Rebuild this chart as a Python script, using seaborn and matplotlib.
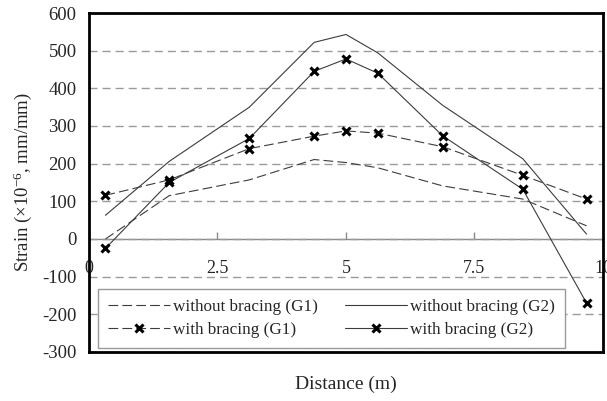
import matplotlib
matplotlib.use('Agg')
import matplotlib.pyplot as plt
import seaborn as sns

# ---- data ----
distance = [0.32, 1.56, 3.12, 4.38, 5.0, 5.62, 6.88, 8.44, 9.68]
without_g1 = [0, 115, 157, 211, 203, 189, 141, 106, 35]
without_g2 = [63, 206, 350, 522, 543, 494, 355, 213, 13]
with_g1 = [116, 157, 240, 273, 287, 281, 245, 169, 106]
with_g2 = [-25, 150, 267, 445, 478, 440, 274, 132, -170]
x_ticks = [0, 2.5, 5, 7.5, 10]
x_tick_labels = ['0', '2.5', '5', '7.5', '10']
y_ticks = [-300, -200, -100, 0, 100, 200, 300, 400, 500, 600]
series_labels = ['without bracing (G1)', 'with bracing (G1)',
                 'without bracing (G2)', 'with bracing (G2)']

sns.set_style('white')
plt.rcParams['font.family'] = ['Liberation Serif', 'DejaVu Serif']
plt.rcParams['mathtext.fontset'] = 'custom'
plt.rcParams['mathtext.rm'] = 'Liberation Serif'
plt.rcParams['mathtext.it'] = 'Liberation Serif:italic'
plt.rcParams['lines.scale_dashes'] = False

W, H = 607, 401
fig = plt.figure(figsize=(W / 100, H / 100), dpi=100)
ax = fig.add_axes([89 / W, 1 - 352 / H, 514 / W, 339 / H])

line_color = '#3c3c3c'
dash = (0, (7, 3))
common = dict(ax=ax, color=line_color, linewidth=0.8)
sns.lineplot(x=distance, y=without_g1, linestyle=dash, label=series_labels[0], **common)
sns.lineplot(x=distance, y=with_g1, linestyle=dash, marker='x', markersize=5.5,
             mew=2.2, mec='black', label=series_labels[1], **common)
sns.lineplot(x=distance, y=without_g2, linestyle='-', label=series_labels[2], **common)
sns.lineplot(x=distance, y=with_g2, linestyle='-', marker='x', markersize=5.5,
             mew=2.2, mec='black', label=series_labels[3], **common)

ax.set_xlim(0, 10)
ax.set_ylim(-300, 600)
ax.set_yticks(y_ticks)
ax.set_yticklabels([str(v) for v in y_ticks])
ax.tick_params(axis='y', length=0, pad=9, labelsize=13.5)
ax.set_xticks(x_ticks)
ax.tick_params(axis='x', length=0, labelbottom=False)
ax.yaxis.grid(True, color='#9a9a9a', linewidth=1, linestyle=(0, (5.8, 3.6)))
ax.xaxis.grid(False)
for s in ax.spines.values():
    s.set_visible(True)
    s.set_color('black')
    s.set_linewidth(2)

# x axis crossing at y = 0
zero_frac = (0 - (-300)) / 900
sec = ax.secondary_xaxis(zero_frac)
sec.set_xticks(x_ticks)
sec.set_xticklabels(x_tick_labels)
sec.tick_params(axis='x', direction='in', length=5, width=1, color='#8a8a8a',
                pad=15, labelsize=13)
sec.spines['bottom'].set_color('#8a8a8a')
sec.spines['bottom'].set_linewidth(1)

ax.set_ylabel(r'Strain ($\times$10$^{-6}$, mm/mm)', fontsize=13.5, labelpad=6)
ax.set_xlabel('Distance (m)', fontsize=14, labelpad=17)

handles, labels = ax.get_legend_handles_labels()
leg = ax.legend(handles, labels, ncol=2, loc='lower left',
                bbox_to_anchor=(9 / 514, 4 / 339), borderaxespad=0,
                fontsize=12.3, frameon=True, fancybox=False, framealpha=1,
                edgecolor='#999999', handlelength=3.6, handletextpad=0.2,
                columnspacing=1.6, labelspacing=0.4, borderpad=0.6)
leg.get_frame().set_linewidth(1)

fig.savefig('out.png', dpi=100)
